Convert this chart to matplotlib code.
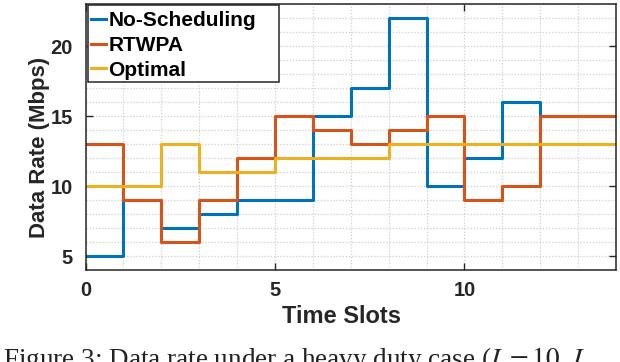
import matplotlib
matplotlib.use("Agg")
import matplotlib.pyplot as plt
import matplotlib.patches as mpatches
import numpy as np
from matplotlib.ticker import MultipleLocator

slots = list(range(14))
no_sched = [5, 9, 7, 8, 9, 9, 15, 17, 22, 10, 12, 16, 15, 15]
rtwpa = [13, 9, 6, 9, 12, 15, 14, 13, 14, 15, 9, 10, 15, 15]
optimal = [10, 10, 13, 11, 11, 12, 12, 12, 13, 13, 13, 13, 13, 13]
labels = ["No-Scheduling", "RTWPA", "Optimal"]
colors = ["#0072BD", "#D95319", "#EDB120"]

plt.rcParams['font.family'] = ['Liberation Sans', 'DejaVu Sans']
plt.rcParams['mathtext.fontset'] = 'stix'

W, H = 620, 362
fig = plt.figure(figsize=(W/100, H/100), dpi=100)
L, R, T, B = 85.5, 616, 4, 270
ax = fig.add_axes([L/W, 1-B/H, (R-L)/W, (B-T)/H])

x = np.array(slots + [slots[-1] + 1])
for series, lab, col in zip([no_sched, rtwpa, optimal], labels, colors):
    y = np.array(series + [series[-1]])
    ax.step(x, y, where='post', color=col, lw=2.2, label=lab)

ax.set_xlim(0, 14)
ax.set_ylim(4, 23)
ax.xaxis.set_major_locator(MultipleLocator(5))
ax.yaxis.set_major_locator(MultipleLocator(5))
ax.xaxis.set_minor_locator(MultipleLocator(1))
ax.yaxis.set_minor_locator(MultipleLocator(1))
ax.grid(which='both', color='#cfcfcf', ls=(0, (1, 1.5)), lw=0.9)
ax.set_axisbelow(True)
ax.tick_params(which='major', direction='in', length=5, width=1, top=True, right=True,
               labelsize=14.5, colors='#262626')
ax.tick_params(axis='x', which='major', pad=8)
ax.tick_params(axis='y', which='major', pad=9)
ax.tick_params(which='minor', length=0, top=True, right=True)
for lab in ax.get_xticklabels() + ax.get_yticklabels():
    lab.set_fontweight('bold')
for sp in ax.spines.values():
    sp.set_color('#262626')
    sp.set_linewidth(1.1)

ax.set_xlabel("Time Slots", fontsize=17, fontweight='bold', color='#262626')
ax.set_ylabel("Data Rate (Mbps)", fontsize=16, fontweight='bold', color='#262626')
ax.xaxis.set_label_coords((342-L)/(R-L), 1-(316.5-T)/(B-T))
ax.yaxis.set_label_coords((40-L)/(R-L), 1-(147.5-T)/(B-T))
ax.xaxis.label.set_va('center')
ax.yaxis.label.set_va('center')

# legend box
box = mpatches.Rectangle((88/W, 1-82/H), (279-88)/W, (82-5)/H, transform=fig.transFigure,
                         facecolor='white', edgecolor='#262626', lw=1.1, zorder=4,
                         clip_on=False)
ax.add_artist(box)
leg = ax.legend(loc='upper left', bbox_to_anchor=(88/W, 1-8.5/H), bbox_transform=fig.transFigure,
                handlelength=0.75, handletextpad=0.1, labelspacing=0.28, borderpad=0.12,
                borderaxespad=0.0, frameon=False, prop={'weight': 'bold', 'size': 15})
leg.set_zorder(5)

fig.text(0.005, 1-360/H, "Figure 3: Data rate under a heavy duty case ($L = 10$, $L$",
         fontsize=19.5, family='Liberation Serif', fontweight='normal', va='center',
         ha='left', color='#222222')

fig.savefig("out.png", dpi=100)
